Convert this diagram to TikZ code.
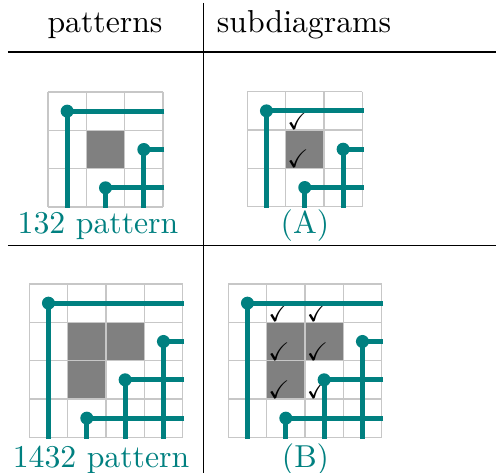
\documentclass[tikz,border=0pt]{standalone}
\usepackage{amssymb}
\def\cs{38.33}
\tikzset{
  gridline/.style={draw=black!22, line width=0.45pt},
  shadecell/.style={fill=black!50},
  permline/.style={draw=teal, line width=1.5pt},
  dotc/.style={fill=teal},
  chk/.style={inner sep=0pt, anchor=south west, font=\footnotesize},
  rule/.style={draw=black, line width=0.4pt},
  head/.style={anchor=base, font=\normalsize},
  lab/.style={anchor=base, text=teal},
}
\newcommand{\pgrid}[7]{%
  \foreach \c/\r in {#5} \fill[shadecell] ({#1+(\c-1)*\cs},{#2+(\r-1)*\cs}) rectangle ++(\cs,\cs);
  \foreach \k in {0,...,#3} {
    \draw[gridline] ({#1+\k*\cs},#2) -- ({#1+\k*\cs},{#2+#3*\cs});
    \draw[gridline] (#1,{#2+\k*\cs}) -- ({#1+#3*\cs},{#2+\k*\cs});
  }
  \foreach \c/\r in {#6} \node[chk] at ({#1+(\c-1)*\cs+1.2},{#2+\r*\cs}) {\checkmark};
  \foreach \c/\r in {#4} {
    \coordinate (#7-\c) at ({#1+(\c-0.5)*\cs},{#2+(\r-0.5)*\cs});
    \coordinate (#7-\c-e) at ({#1+#3*\cs+1.5},{#2+(\r-0.5)*\cs});
    \coordinate (#7-\c-s) at ({#1+(\c-0.5)*\cs},{#2+#3*\cs+1.5});
    \draw[permline] (#7-\c-e) -- (#7-\c) -- (#7-\c-s);
  }
  \foreach \c/\r in {#4} \fill[dotc] (#7-\c) circle[radius=2.05pt];
}
\begin{document}
\begin{tikzpicture}[x=0.315pt,y=-0.315pt]
\useasboundingbox (0,0) rectangle (496,473);
% table rules
\coordinate (hl1) at (8,52); \coordinate (hr1) at (496,52);
\coordinate (hl2) at (8,245.7); \coordinate (hr2) at (496,245.7);
\coordinate (vt) at (203.5,3); \coordinate (vb) at (203.5,473);
\draw[rule] (hl1) -- (hr1);
\draw[rule] (hl2) -- (hr2);
\draw[rule] (vt) -- (vb);
% headers
\node[head] (h1) at (105,32) {patterns};
\node[head] (h2) at (304,32) {subdiagrams};
% grids
\pgrid{48}{92}{3}{1/1,2/3,3/2}{2/2}{}{pa}
\pgrid{247.3}{91.7}{3}{1/1,2/3,3/2}{2/2}{2/1,2/2}{pA}
\pgrid{29.3}{284}{4}{1/1,2/4,3/3,4/2}{2/2,3/2,2/3}{}{pb}
\pgrid{228.3}{284}{4}{1/1,2/4,3/3,4/2}{2/2,3/2,2/3}{2/1,3/1,2/2,3/2,2/3,3/3}{pB}
% labels
\node[lab] (l1) at (98,234) {132 pattern};
\node[lab] (l2) at (305,234) {(A)};
\node[lab] (l3) at (101,468) {1432 pattern};
\node[lab] (l4) at (305.5,468) {(B)};
\end{tikzpicture}
\end{document}
